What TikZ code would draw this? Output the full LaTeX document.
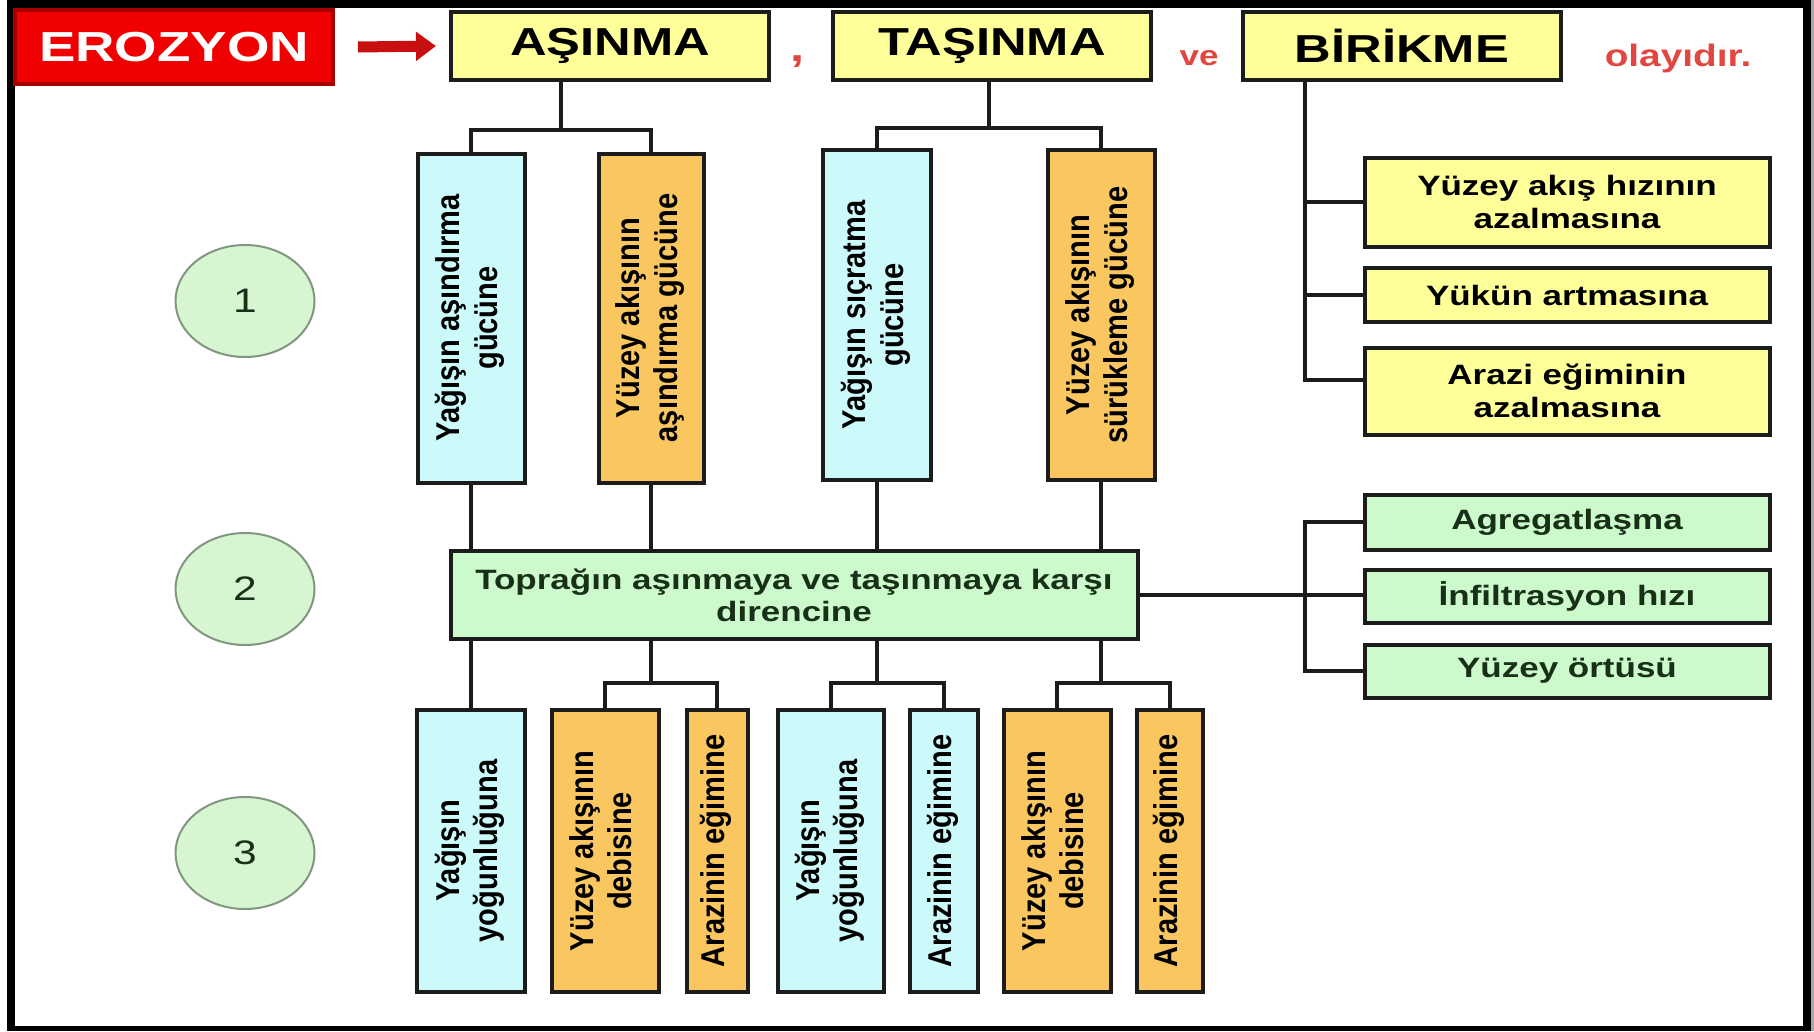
\documentclass[tikz,border=0pt]{standalone}
\usepackage{fontspec}
\usepackage{graphicx}
\usetikzlibrary{shapes.geometric,arrows.meta}
\newfontfamily\tfont{Liberation Sans}[FakeStretch=1.3]
\newfontfamily\hfont{Liberation Sans}[FakeStretch=1.25]
\newfontfamily\vfont{Liberation Sans}[FakeStretch=0.88]
\definecolor{cyanbox}{RGB}{204,250,250}
\definecolor{orangebox}{RGB}{250,198,96}
\definecolor{yellowbox}{RGB}{255,255,153}
\definecolor{greenbox}{RGB}{204,250,204}
\definecolor{ovalfill}{RGB}{214,245,208}
\definecolor{ovalline}{RGB}{130,150,130}
\definecolor{erored}{RGB}{240,0,0}
\definecolor{arrowred}{RGB}{200,16,16}
\definecolor{wordred}{RGB}{226,70,64}
\definecolor{greentext}{RGB}{24,48,24}
\definecolor{boxline}{RGB}{28,28,28}
\newcommand{\vlab}[1]{\rotatebox{90}{\begin{tabular}{@{}c@{}}#1\end{tabular}}}

\begin{document}
\begin{tikzpicture}
      [%%%%%%%%%%%%%%%%%%%%%%%%%%%%%%
      x=1pt, y=-1pt,
      box/.style={rectangle, draw=boxline, line width=4pt, inner sep=0pt},
      head/.style={box, fill=yellowbox, minimum width=318pt, minimum height=68pt,
        font=\tfont\bfseries\fontsize{39}{39}\selectfont},
      vbox/.style={box, minimum height=282pt, font=\vfont\bfseries\fontsize{33}{38}\selectfont},
      side/.style={box, minimum width=405pt, align=center,
        font=\hfont\bfseries\fontsize{28}{33}\selectfont},
      oval/.style={ellipse, draw=ovalline, line width=2pt, fill=ovalfill, minimum width=139pt,
        minimum height=112pt, text=greentext, font=\hfont\fontsize{34}{34}\selectfont},
      link/.style={draw=boxline, line width=3.5pt},
      ]%%%%%%%%%%%%%%%%%%%%%%%%%%%%%%

      \useasboundingbox (0,0) rectangle (1814,1031);
      % frame
      \fill[white] (0,0) rectangle (1814,1031);
      \fill[black] (7,0) rectangle (1811,1031);
      \fill[white] (15,8) rectangle (1803,1026);
      \fill[black!35] (1811,0) rectangle (1814,1031);

      % title row
      \node[box, fill=erored, draw=erored!70!black, minimum width=318pt, minimum height=74pt,
        text=white, font=\tfont\bfseries\fontsize{42}{42}\selectfont] (ero) at (174,47) {EROZYON};
      \node[head] (asn) at (610,46) {AŞINMA};
      \node[head] (tsn) at (992,46) {TAŞINMA};
      \node[head] (brk) at (1402,46) {BİRİKME};
      \node[text=wordred, font=\tfont\bfseries\fontsize{39}{39}\selectfont] (comma) at (798,62) {,};
      \node[text=wordred, font=\hfont\bfseries\fontsize{28}{28}\selectfont] (ve) at (1199,58) {ve};
      \node[text=wordred, font=\hfont\bfseries\fontsize{31}{31}\selectfont] (olay) at (1678,58) {olayıdır.};
      \draw[arrowred, line width=11pt, -{Triangle[length=20pt,width=28pt]}]
        ([xshift=23pt]ero.east) -- ([xshift=-13pt]asn.west);

      % level 1
      \node[vbox, fill=cyanbox, minimum width=107pt, minimum height=329pt] (a1) at (471,318) {\vlab{Yağışın aşındırma\\gücüne}};
      \node[vbox, fill=orangebox, minimum width=105pt, minimum height=329pt] (a2) at (651,318) {\vlab{Yüzey akışının\\aşındırma gücüne}};
      \node[vbox, fill=cyanbox, minimum width=108pt, minimum height=330pt] (t1) at (877,315) {\vlab{Yağışın sıçratma\\gücüne}};
      \node[vbox, fill=orangebox, minimum width=107pt, minimum height=330pt] (t2) at (1101,315) {\vlab{Yüzey akışının\\sürükleme gücüne}};

      % level 2
      \node[box, fill=greenbox, minimum width=687pt, minimum height=88pt, align=center, text=greentext,
        font=\hfont\bfseries\fontsize{28}{32}\selectfont] (mid) at (794,595) {Toprağın aşınmaya ve taşınmaya karşı\\direncine};

      % right column
      \node[side, fill=yellowbox, minimum height=89pt] (b1) at (1567,202) {Yüzey akış hızının\\azalmasına};
      \node[side, fill=yellowbox, minimum height=54pt] (b2) at (1567,295) {Yükün artmasına};
      \node[side, fill=yellowbox, minimum height=87pt] (b3) at (1567,391) {Arazi eğiminin\\azalmasına};
      \node[side, fill=greenbox, text=greentext, minimum height=55pt] (g1) at (1567,522) {Agregatlaşma};
      \node[side, fill=greenbox, text=greentext, minimum height=53pt] (g2) at (1567,596) {İnfiltrasyon hızı};
      \node[side, fill=greenbox, text=greentext, minimum height=53pt] (g3) at (1567,671) {Yüzey örtüsü};

      % level 3
      \node[vbox, fill=cyanbox, minimum width=108pt] (c1) at (471,851) {\vlab{Yağışın\\yoğunluğuna}};
      \node[vbox, fill=orangebox, minimum width=107pt] (c2) at (605,851) {\vlab{Yüzey akışının\\debisine}};
      \node[vbox, fill=orangebox, minimum width=61pt] (c3) at (717,851) {\vlab{Arazinin eğimine}};
      \node[vbox, fill=cyanbox, minimum width=106pt] (c4) at (831,851) {\vlab{Yağışın\\yoğunluğuna}};
      \node[vbox, fill=cyanbox, minimum width=68pt] (c5) at (944,851) {\vlab{Arazinin eğimine}};
      \node[vbox, fill=orangebox, minimum width=107pt] (c6) at (1057,851) {\vlab{Yüzey akışının\\debisine}};
      \node[vbox, fill=orangebox, minimum width=66pt] (c7) at (1170,851) {\vlab{Arazinin eğimine}};

      % step numbers
      \node[oval] (n1) at (245,301) {1};
      \node[oval] (n2) at (245,589) {2};
      \node[oval] (n3) at (245,853) {3};

      % connectors
      \coordinate (ab) at (561,130);
      \coordinate (tb) at (989,128);
      \draw[link] (ab) -- (ab |- asn.south);
      \draw[link] (a1.north) |- (ab) -| (a2.north);
      \draw[link] (tb) -- (tb |- tsn.south);
      \draw[link] (t1.north) |- (tb) -| (t2.north);
      \foreach \n in {a1,a2,t1,t2}
        \draw[link] (\n.south) -- (\n.south |- mid.north);

      \coordinate (bk) at (1305,0);
      \draw[link] (bk |- brk.south) |- ([yshift=11pt]b3.west);
      \draw[link] (bk |- b1.west) -- (b1.west);
      \draw[link] (bk |- b2.west) -- (b2.west);

      \coordinate (gb) at (1305,596);
      \draw[link] (mid.east) -- (mid.east -| g2.west);
      \draw[link] (g1.west) -| (gb) |- (g3.west);

      \coordinate (c23) at (651,683);
      \coordinate (c45) at (877,683);
      \coordinate (c67) at (1101,683);
      \draw[link] (c1.north) -- (c1.north |- mid.south);
      \foreach \j/\l/\r in {c23/c2/c3, c45/c4/c5, c67/c6/c7}{
        \draw[link] (\j) -- (\j |- mid.south);
        \draw[link] (\l.north) |- (\j) -| (\r.north);
      }
    \end{tikzpicture}
\end{document}
